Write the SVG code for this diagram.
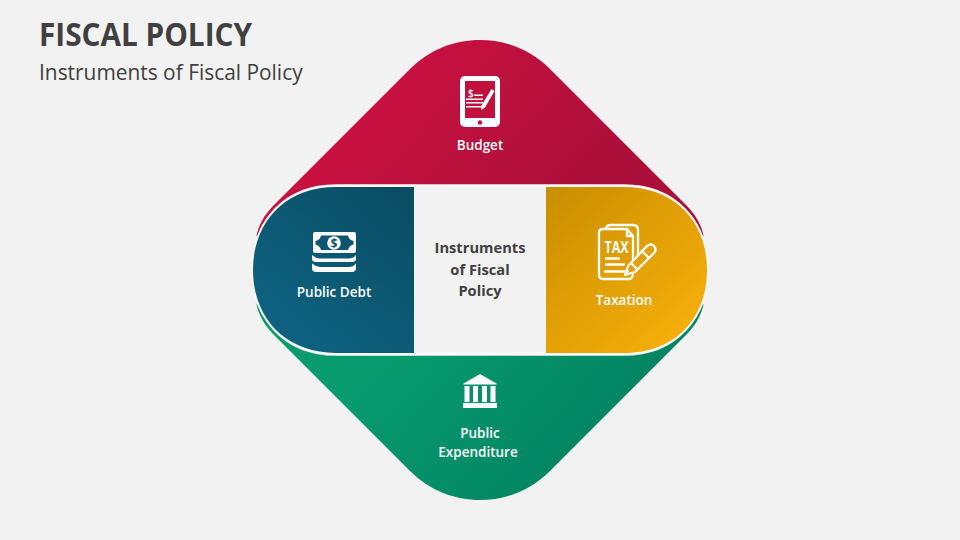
<svg xmlns="http://www.w3.org/2000/svg" width="960" height="540" viewBox="0 0 960 540">
<defs>
<linearGradient id="gr" gradientUnits="userSpaceOnUse" x1="400" y1="60" x2="560" y2="210"><stop offset="0" stop-color="#c91140"/><stop offset="1" stop-color="#ab0f39"/></linearGradient>
<linearGradient id="gg" gradientUnits="userSpaceOnUse" x1="400" y1="350" x2="560" y2="490"><stop offset="0" stop-color="#069a6d"/><stop offset="1" stop-color="#038463"/></linearGradient>
<linearGradient id="gb" gradientUnits="userSpaceOnUse" x1="270" y1="350" x2="414" y2="187"><stop offset="0" stop-color="#0e6484"/><stop offset="1" stop-color="#0a4c61"/></linearGradient>
<linearGradient id="gy" gradientUnits="userSpaceOnUse" x1="546" y1="187" x2="700" y2="353"><stop offset="0" stop-color="#c88e00"/><stop offset="1" stop-color="#fbb20c"/></linearGradient>
</defs>
<style>
text{font-family:"Open Sans","Noto Sans",sans-serif}
.t{font-size:32.500px;font-weight:700;fill:#404040}
.s{font-size:20.900px;fill:#404040}
.l{font-size:13.500px;font-weight:600;fill:#fff;text-anchor:middle}
.c{font-size:14.700px;font-weight:700;fill:#404040;text-anchor:middle}
.w{fill:#fff}
.o{fill:none;stroke:#fff;stroke-width:2.300;stroke-linecap:round;stroke-linejoin:round}
</style>
<rect width="960" height="540" fill="#f2f2f2"/>
<text class="t" x="39" y="46" textLength="213" lengthAdjust="spacingAndGlyphs">FISCAL POLICY</text>
<text class="s" x="39" y="80">Instruments of Fiscal Policy</text>
<g id="budget">
<path fill="url(#gr)" d="M300 270L256.500 236C258 226 265 214 273 206L410 69C430 49 455 40 480 40C505 40 530 49 550 69L687 206C695 214 702 226 703.500 236L660 270Z"/>
<rect class="w" x="460" y="76" width="40" height="51" rx="5"/>
<rect fill="#c0103c" x="465" y="81" width="30" height="37"/>
<circle fill="#c0103c" cx="480" cy="122.500" r="2.200"/>
<text x="468" y="97" style="font-size:10px;font-weight:600;fill:#fff">$</text>
<path class="w" d="M474 94.500h9v1.500h-9zM466 98.500h17v1.500h-17zM466 102h17v1.500h-17zM466 106h17v1.500h-17z"/>
<path class="w" d="M491.500 89L494.500 91L485 107.500L481 110L481.500 105.500Z"/>
<text class="l" x="480" y="150">Budget</text>
</g>
<g id="expenditure">
<path fill="url(#gg)" d="M300 270L256.500 304C258 314 265 326 273 334L410 471C430 491 455 500 480 500C505 500 530 491 550 471L687 334C695 326 702 314 703.500 304L660 270Z"/>
<path class="w" d="M480 374L496.500 383.500V384.500H463.500V383.500Z"/>
<path class="w" d="M464.500 386h5v16h-5zM473 386h5v16h-5zM482 386h5v16h-5zM490.500 386h5v16h-5z"/>
<rect class="w" x="463" y="403" width="34" height="5"/>
<text class="l" x="480" y="438">Public</text>
<text class="l" x="478" y="457">Expenditure</text>
</g>
<path id="ring" d="M336 186H624C675 186 707 222 707 270C707 318 675 354 624 354H336C285 354 253 318 253 270C253 222 285 186 336 186Z" fill="#f2f2f2" stroke="#f8f8f8" stroke-width="3.500"/>
<g id="debt">
<path fill="url(#gb)" d="M414 187V353H336C285 353 253 318 253 270C253 222 285 187 336 187Z"/>
<path class="w" fill-rule="evenodd" d="M315 232H354A2 2 0 0 1 356 234V251A2 2 0 0 1 354 253H315A2 2 0 0 1 313 251V234A2 2 0 0 1 315 232ZM321 235.500Q320 240 315.500 241V244.500Q320 245.500 321 250H348Q349 245.500 353.500 244.500V241Q349 240 348 235.500Z"/>
<circle class="w" cx="334" cy="243" r="6.800"/>
<text x="334" y="247.500" text-anchor="middle" style="font-size:11.500px;font-weight:700;fill:#0c5570">$</text>
<path class="w" d="M312 255Q316 258.500 320 258.500H349Q353 258.500 356 255V258.500Q356 262 352 262H316Q312 262 312 258.500Z"/>
<path class="w" d="M312 263.500Q316 267 320 267H349Q353 267 356 263.500V268Q356 272 352 272H316Q312 272 312 268Z"/>
<text class="l" x="334" y="297">Public Debt</text>
</g>
<g id="taxation">
<path fill="url(#gy)" d="M546 187V353H624C675 353 707 318 707 270C707 222 675 187 624 187Z"/>
<path class="o" d="M606 229Q606 225 611 225H633Q638 225 638 230V256"/>
<path class="o" d="M627 229H603Q599 229 599 233V275Q599 279 603 279H629Q632 279 633 275"/>
<path class="o" d="M627 229L633 236V260M627 230V236H633"/>
<text x="604.500" y="252.500" textLength="24" lengthAdjust="spacingAndGlyphs" style="font-size:15.500px;font-weight:700;fill:#fff">TAX</text>
<path class="o" d="M606 258.500H619M606 264.500H624M605 271.500H628"/>
<path class="o" d="M625 275L628 266L647 246Q651 243 654 246Q657 250 654 253L635 272Z"/>
<path class="o" d="M631 263L637 269M642 251L649 258"/>
<text class="l" x="624" y="305">Taxation</text>
</g>
<g id="center">
<text class="c" x="480" y="253">Instruments</text>
<text class="c" x="480" y="274.500">of Fiscal</text>
<text class="c" x="480" y="296">Policy</text>
</g>
</svg>
